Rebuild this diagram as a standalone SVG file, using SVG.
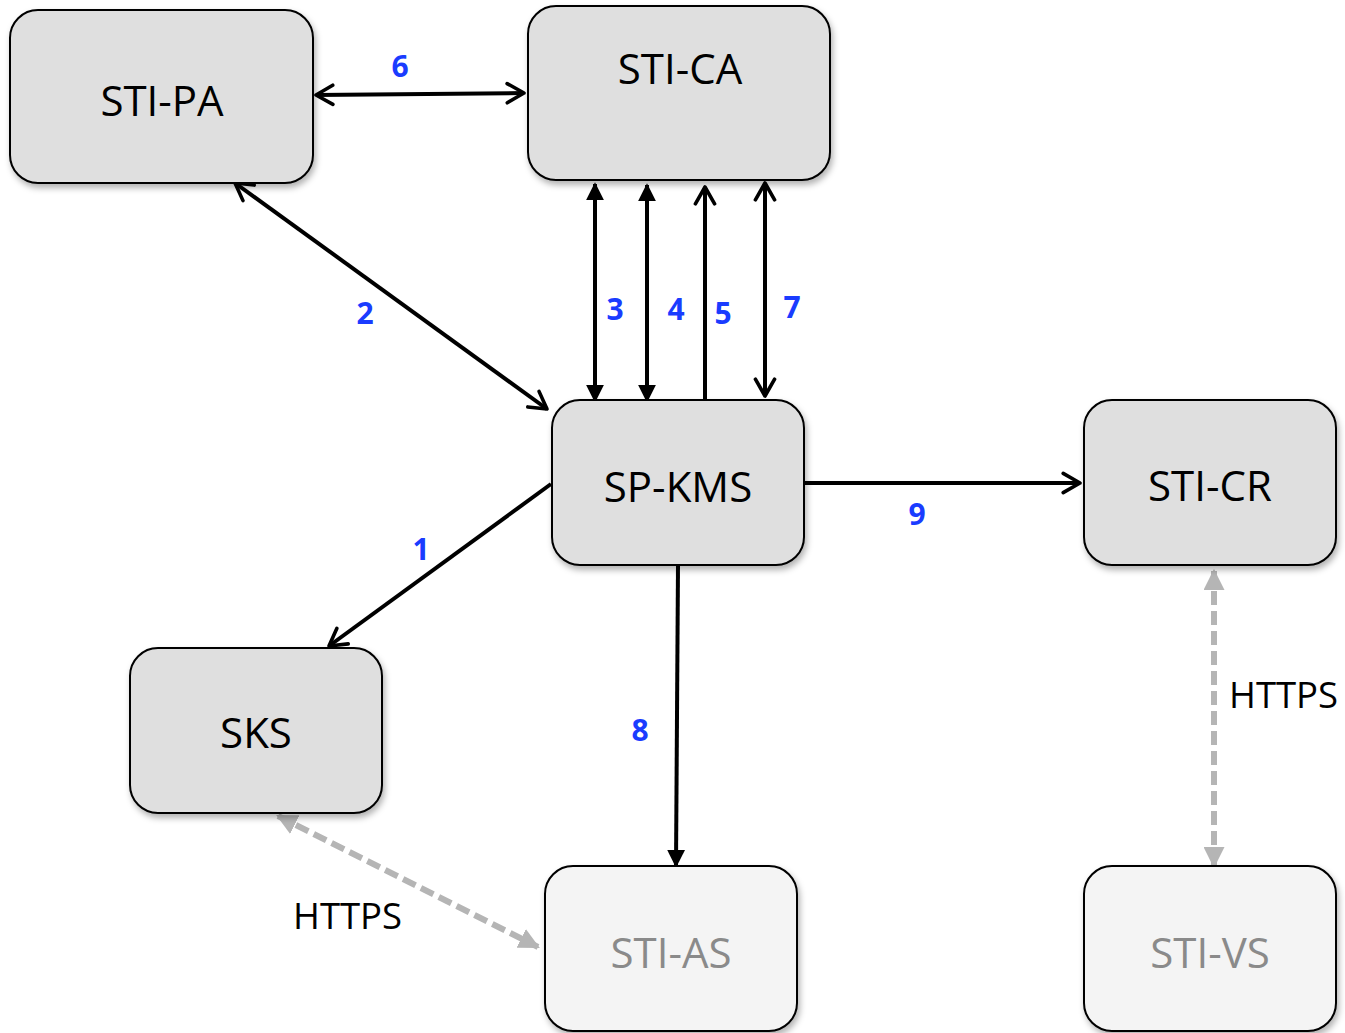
<svg xmlns="http://www.w3.org/2000/svg" width="1345" height="1033" viewBox="0 0 1345 1033">
<style>
.box{fill:#dfdfdf;stroke:#000;stroke-width:2}
.lbox{fill:#f4f4f4;stroke:#000;stroke-width:2}
.t{font-family:"Open Sans","Liberation Sans",sans-serif;font-size:42px;text-anchor:middle;fill:#000}
.lt{fill:#8a8a8a}
.n{font-family:"Open Sans","Liberation Sans",sans-serif;font-size:30px;font-weight:bold;fill:#1a3cff;text-anchor:middle}
.h{font-family:"Open Sans","Liberation Sans",sans-serif;font-size:36.5px;fill:#000}
.c{stroke:#000;stroke-width:4;fill:none}
.d{stroke:#b5b5b5;stroke-width:6;fill:none;stroke-dasharray:14 6}
</style>
<defs>
<filter id="sh" x="-10%" y="-10%" width="130%" height="130%">
<feDropShadow dx="2" dy="4" stdDeviation="3" flood-color="#000" flood-opacity="0.3"/>
</filter>
<marker id="open" viewBox="0 0 10 10" refX="9" refY="5" markerWidth="6" markerHeight="6" orient="auto-start-reverse" markerUnits="strokeWidth">
<path d="M2,1 L9,5 L2,9" fill="none" stroke="#000" stroke-width="1.5" stroke-linecap="round" stroke-linejoin="round"/>
</marker>
<marker id="fill" viewBox="0 0 10 10" refX="9" refY="5" markerWidth="4.5" markerHeight="4.5" orient="auto-start-reverse" markerUnits="strokeWidth">
<path d="M0,0 L10,5 L0,10 Z" fill="#000"/>
</marker>
<marker id="gfill" viewBox="0 0 10 10" refX="9" refY="5" markerWidth="3.5" markerHeight="3.5" orient="auto-start-reverse" markerUnits="strokeWidth">
<path d="M0,0 L10,5 L0,10 Z" fill="#b5b5b5"/>
</marker>
</defs>
<g id="connectors">
<line class="c" x1="316" y1="95" x2="524" y2="93" marker-start="url(#open)" marker-end="url(#open)"/>
<line class="c" x1="235" y1="183" x2="547" y2="409" marker-start="url(#open)" marker-end="url(#open)"/>
<line class="c" x1="595" y1="184" x2="595" y2="401" marker-start="url(#fill)" marker-end="url(#fill)"/>
<line class="c" x1="647" y1="185" x2="647" y2="401" marker-start="url(#fill)" marker-end="url(#fill)"/>
<line class="c" x1="705" y1="402" x2="705" y2="187" marker-end="url(#open)"/>
<line class="c" x1="765" y1="183" x2="765" y2="396" marker-start="url(#open)" marker-end="url(#open)"/>
<line class="c" x1="551" y1="484" x2="329" y2="646" marker-end="url(#open)"/>
<line class="c" x1="805" y1="483" x2="1080" y2="483" marker-end="url(#open)"/>
<line class="c" x1="678" y1="565" x2="676" y2="866" marker-end="url(#fill)"/>
<line class="d" x1="278" y1="816" x2="538" y2="947" marker-start="url(#gfill)" marker-end="url(#gfill)"/>
<line class="d" x1="1214" y1="571" x2="1214" y2="866" marker-start="url(#gfill)" marker-end="url(#gfill)"/>
<text class="n" x="400" y="77">6</text>
<text class="n" x="365" y="324">2</text>
<text class="n" x="615" y="320">3</text>
<text class="n" x="676" y="320">4</text>
<text class="n" x="723" y="324">5</text>
<text class="n" x="792" y="318">7</text>
<text class="n" x="421" y="560">1</text>
<text class="n" x="917" y="525">9</text>
<text class="n" x="640" y="741">8</text>
<text class="h" x="293" y="929">HTTPS</text>
<text class="h" x="1229" y="708">HTTPS</text>
</g>
<g id="sti-pa"><rect class="box" filter="url(#sh)" x="10" y="10" width="303" height="173" rx="28"/><text class="t" x="162" y="116">STI-PA</text></g>
<g id="sti-ca"><rect class="box" filter="url(#sh)" x="528" y="6" width="302" height="174" rx="28"/><text class="t" x="680" y="84">STI-CA</text></g>
<g id="sp-kms"><rect class="box" filter="url(#sh)" x="552" y="400" width="252" height="165" rx="28"/><text class="t" x="678" y="502">SP-KMS</text></g>
<g id="sti-cr"><rect class="box" filter="url(#sh)" x="1084" y="400" width="252" height="165" rx="28"/><text class="t" x="1210" y="501">STI-CR</text></g>
<g id="sks"><rect class="box" filter="url(#sh)" x="130" y="648" width="252" height="165" rx="28"/><text class="t" x="256" y="748">SKS</text></g>
<g id="sti-as"><rect class="lbox" filter="url(#sh)" x="545" y="866" width="252" height="165" rx="28"/><text class="t lt" x="671" y="968">STI-AS</text></g>
<g id="sti-vs"><rect class="lbox" filter="url(#sh)" x="1084" y="866" width="252" height="165" rx="28"/><text class="t lt" x="1210" y="968">STI-VS</text></g>
</svg>
